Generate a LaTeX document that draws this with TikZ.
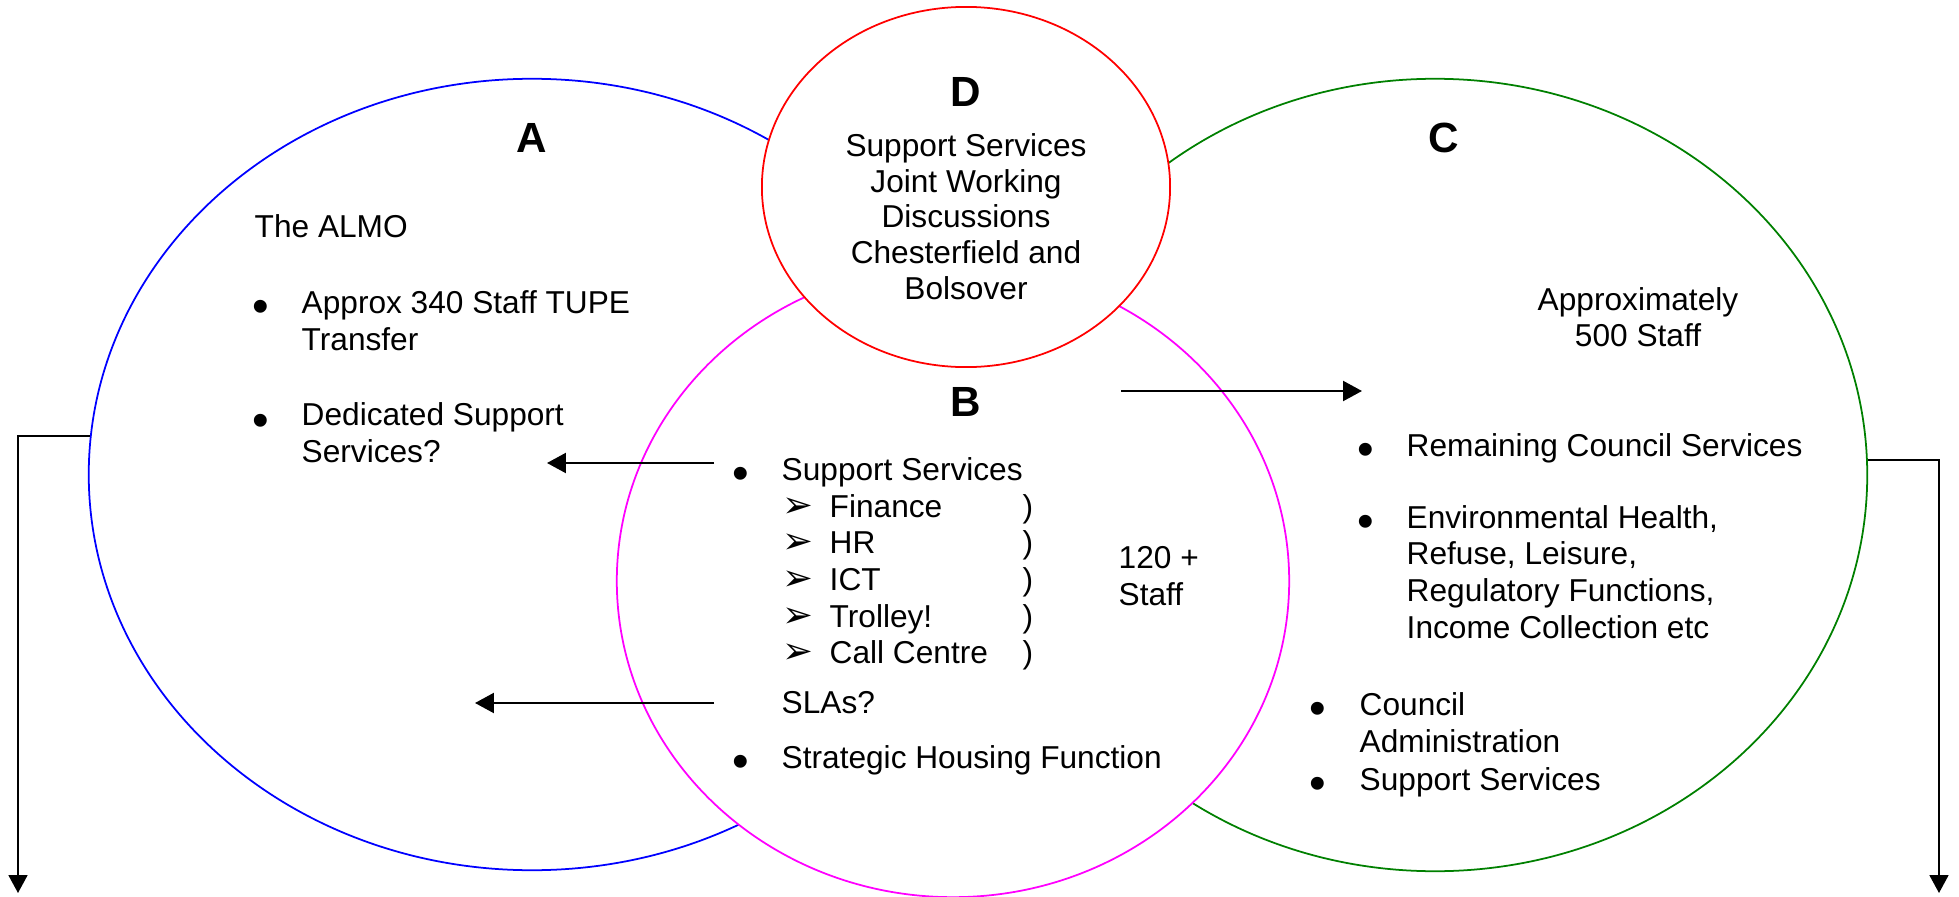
\documentclass[tikz,border=0pt]{standalone}
\usepackage{fontspec}
\setmainfont{Liberation Sans}
\newfontfamily\dingfont{DejaVu Sans}
\usetikzlibrary{shapes.geometric,arrows.meta}

\definecolor{almoblue}{RGB}{0,0,255}
\definecolor{jointred}{RGB}{255,0,0}
\definecolor{sharedpink}{RGB}{255,0,255}
\definecolor{councilgreen}{RGB}{0,128,0}

\tikzset{
  group/.style={ellipse, draw, fill=white, inner sep=0pt, line width=0.5pt},
  txt/.style={font=\fontsize{9}{10.4}\selectfont, inner sep=0pt, anchor=base west, align=left},
  ctxt/.style={txt, anchor=base, align=center},
  letter/.style={font=\fontsize{12}{14}\selectfont\bfseries, inner sep=0pt},
  flow/.style={-{Triangle[length=5.4pt,width=5.7pt]}, line width=0.6pt},
  drop/.style={-{Triangle[length=5.1pt,width=5.4pt]}, line width=0.5pt},
}
\newcommand{\bul}{\raisebox{-2.6pt}{\fontsize{13.5}{14}\selectfont\textbullet}}
\newcommand{\tick}{{\dingfont\fontsize{10.5}{12}\selectfont ➢}}

\begin{document}
\begin{tikzpicture}[x=0.01cm, y=-0.01cm]
    \useasboundingbox (0,0) rectangle (1959,897);

    % the four groups
    \node[group, draw=almoblue, minimum width=8.86cm, minimum height=7.91cm] (A) at (532,474.5) {};
    \node[group, draw=councilgreen, minimum width=8.64cm, minimum height=7.92cm] (C) at (1435,475) {};
    \node[group, draw=sharedpink, minimum width=6.72cm, minimum height=6.32cm] (B) at (953,581) {};
    \node[group, draw=jointred, minimum width=4.08cm, minimum height=3.6cm] (D) at (966,187) {};

    \node[letter] (la) at (532,138) {A};
    \node[letter] (lb) at (966,402) {B};
    \node[letter] (lc) at (1444,138) {C};
    \node[letter] (ld) at (966,92) {D};

    % D: joint working (base = last line)
    \node[ctxt, font=\fontsize{9}{10.1}\selectfont] (joint) at (966,299) {Support Services\\Joint Working\\Discussions\\Chesterfield and\\Bolsover};

    % A: the ALMO
    \node[txt] (almo) at (254,237) {The ALMO};
    \node[txt] (ba1) at (252,313) {\bul};
    \node[txt] (tupe) at (301,350) {Approx 340 Staff TUPE\\Transfer};
    \node[txt] (ba2) at (252,427) {\bul};
    \node[txt] (dedic) at (301,462) {Dedicated Support\\Services?};

    % B: shared
    \node[txt] (bb1) at (732,480) {\bul};
    \node[txt] (supp) at (781,480) {Support Services};
    \foreach \y/\s [count=\i] in {517/Finance, 553/HR, 590/ICT, 627/Trolley!, 663/Call Centre} {
        \node[txt] (tk\i) at (782,\y) {\tick};
        \node[txt] (sv\i) at (829,\y) {\s};
        \node[txt] (pr\i) at (1022,\y) {)};
    }
    \node[txt] (staffb) at (1118,605) {120 +\\Staff};
    \node[txt] (slas) at (781,713) {SLAs?};
    \node[txt] (bb2) at (732,768) {\bul};
    \node[txt] (strat) at (781,768) {Strategic Housing Function};

    % C: council
    \node[ctxt] (staffc) at (1638,347) {Approximately\\500 Staff};
    \node[txt] (bc1) at (1357,456) {\bul};
    \node[txt] (remain) at (1406,456) {Remaining Council Services};
    \node[txt] (bc2) at (1357,528) {\bul};
    \node[txt] (env) at (1406,638) {Environmental Health,\\Refuse, Leisure,\\Regulatory Functions,\\Income Collection etc};
    \node[txt] (bc3) at (1309,715) {\bul};
    \node[txt] (admin) at (1359,752) {Council\\Administration};
    \node[txt] (bc4) at (1309,790) {\bul};
    \node[txt] (suppc) at (1359,790) {Support Services};

    % arrows
    \coordinate (fromsupp) at (714,463);
    \coordinate (tosupp) at (547,463);
    \coordinate (fromsla) at (714,703);
    \coordinate (tosla) at (475,703);
    \coordinate (fromb) at (1121,391);
    \coordinate (toc) at (1362,391);
    \coordinate (outa) at (18,893);
    \coordinate (outc) at (1939,893);

    \draw[flow] (fromsupp) -- (tosupp);
    \draw[flow] (fromsla) -- (tosla);
    \draw[flow] (fromb) -- (toc);
    \draw[drop] (A.175) -| (outa);
    \draw[drop] (C.2) -| (outc);
\end{tikzpicture}
\end{document}
